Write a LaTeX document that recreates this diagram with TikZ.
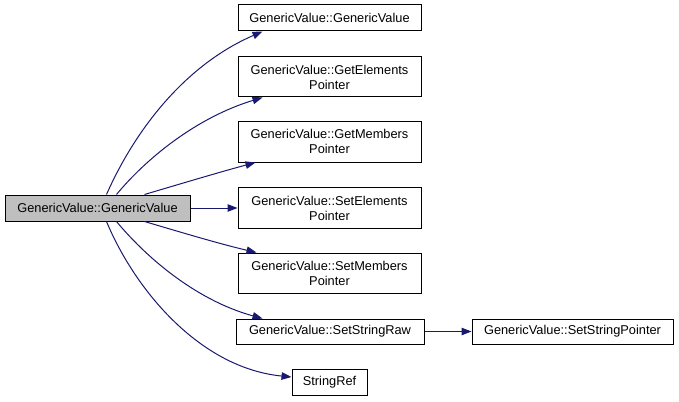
\documentclass[tikz,border=0pt]{standalone}
\usepackage{fontspec}
\setmainfont{Liberation Sans}
\usetikzlibrary{arrows.meta}
\definecolor{edgeblue}{HTML}{191970}
\definecolor{rootgray}{HTML}{BFBFBF}
\tikzset{
  fn/.style={draw=black, line width=1pt, fill=white, inner sep=0pt, align=center,
    font=\fontsize{12.8}{15}\selectfont},
  rootfn/.style={fn, fill=rootgray},
  edge/.style={draw=edgeblue, line width=1pt, -{Triangle[length=10pt,width=7.5pt]}}
}
\begin{document}
\begin{tikzpicture}[x=1pt,y=-1pt]
\useasboundingbox (0,0) rectangle (679,401);
\node[rootfn, minimum width=185pt, minimum height=26pt] (root) at (97.5,208) {GenericValue::GenericValue};
\node[fn, minimum width=183pt, minimum height=26pt] (n1) at (329.5,18) {GenericValue::GenericValue};
\node[fn, minimum width=183pt, minimum height=40pt] (n2) at (329.5,77) {GenericValue::GetElements\\Pointer};
\node[fn, minimum width=183pt, minimum height=41pt] (n3) at (329.5,141.5) {GenericValue::GetMembers\\Pointer};
\node[fn, minimum width=183pt, minimum height=41pt] (n4) at (329.5,208) {GenericValue::SetElements\\Pointer};
\node[fn, minimum width=183pt, minimum height=40pt] (n5) at (329.5,273) {GenericValue::SetMembers\\Pointer};
\node[fn, minimum width=188pt, minimum height=25pt] (n6) at (330,331.5) {GenericValue::SetStringRaw};
\node[fn, minimum width=75pt, minimum height=26pt] (n7) at (329.5,382) {StringRef};
\node[fn, minimum width=201pt, minimum height=25pt] (n8) at (572.5,331.5) {GenericValue::SetStringPointer};

\draw[edge] ([xshift=102pt]root.north west) .. controls (135,130) and (185,65) .. ([xshift=25pt]n1.south west);
\draw[edge] ([xshift=112pt]root.north west) .. controls (145,160) and (195,118) .. ([xshift=25pt]n2.south west);
\draw[edge] ([xshift=140pt]root.north west) .. controls (180,184) and (220,172) .. ([xshift=18pt]n3.south west);
\draw[edge] (root.east) -- (n4.west);
\draw[edge] ([xshift=140pt]root.south west) .. controls (180,232) and (220,244) .. ([xshift=19pt]n5.north west);
\draw[edge] ([xshift=112pt]root.south west) .. controls (145,256) and (195,300) .. ([xshift=27pt]n6.north west);
\draw[edge] ([xshift=102pt]root.south west) .. controls (135,290) and (200,368) .. ([yshift=5pt]n7.west);
\draw[edge] (n6.east) -- (n8.west);
\end{tikzpicture}
\end{document}
